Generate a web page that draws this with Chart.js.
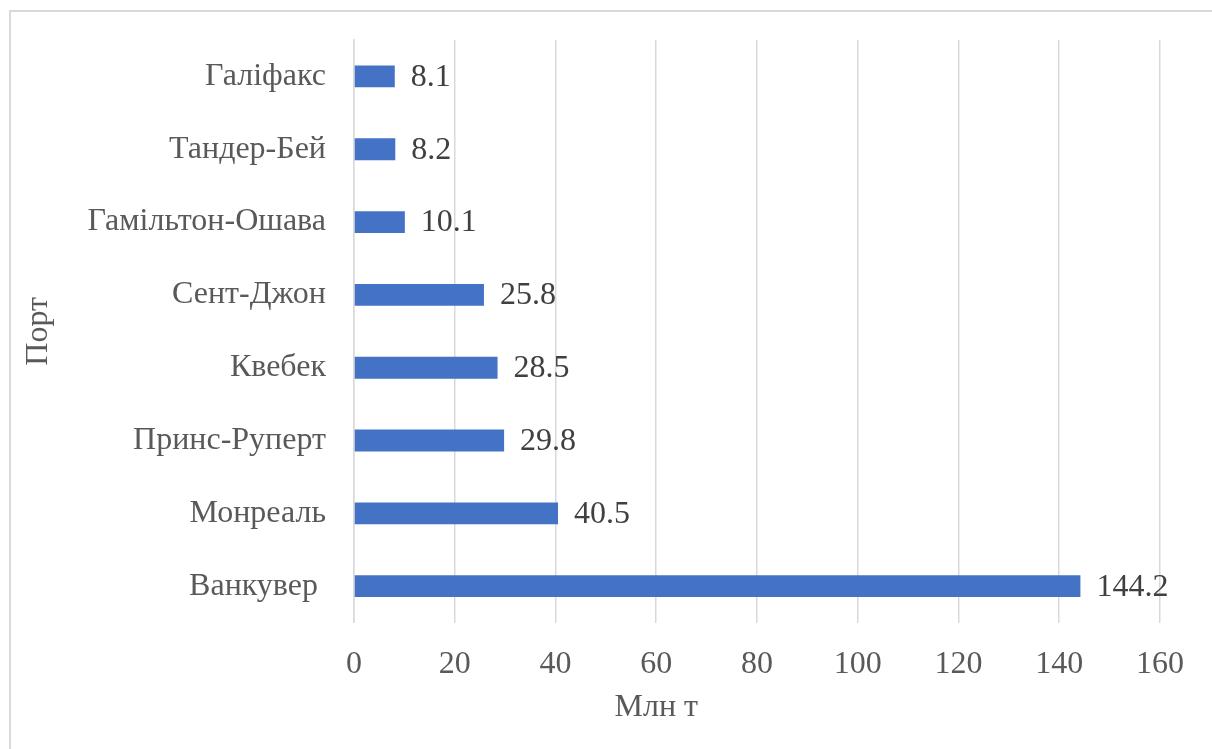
<!DOCTYPE html>
<html>
<head>
<meta charset="utf-8">
<script src="https://cdn.jsdelivr.net/npm/chart.js@4/dist/chart.umd.min.js"></script>
<style>
  html, body { margin: 0; padding: 0; background: #fff; overflow: hidden; }
  #frame {
    position: absolute; left: 9px; top: 10px;
    width: 1300px; height: 800px;
    border: 2px solid #d9d9d9; box-sizing: border-box;
  }
  #wrap { position: absolute; left: 0; top: 0; width: 1212px; height: 749px; }
</style>
</head>
<body>
<div id="frame"></div>
<div id="wrap"><canvas id="chart"></canvas></div>
<script>
// ports, top to bottom
const ports = ['Галіфакс', 'Тандер-Бей', 'Гамільтон-Ошава', 'Сент-Джон', 'Квебек', 'Принс-Руперт', 'Монреаль', 'Ванкувер '];
const volumes = [8.1, 8.2, 10.1, 25.8, 28.5, 29.8, 40.5, 144.2];
const xTicks = [0, 20, 40, 60, 80, 100, 120, 140, 160];
const xTitle = 'Млн т';
const yTitle = 'Порт';

const FONT = "'Liberation Serif', 'Times New Roman', serif";
const SIZE = 32;

// value labels at the end of each bar
const barValues = {
  id: 'barValues',
  afterDatasetsDraw(chart) {
    const ctx = chart.ctx;
    const meta = chart.getDatasetMeta(0);
    ctx.save();
    ctx.font = SIZE + 'px ' + FONT;
    ctx.fillStyle = '#404040';
    ctx.textAlign = 'left';
    ctx.textBaseline = 'middle';
    meta.data.forEach((bar, i) => {
      ctx.fillText(volumes[i].toFixed(1), bar.x + 16, bar.y + 1);
    });
    ctx.restore();
  }
};

// x axis title sits left of centre, like the original
const xAxisTitle = {
  id: 'xAxisTitle',
  afterDraw(chart) {
    const a = chart.chartArea;
    const ctx = chart.ctx;
    ctx.save();
    ctx.font = SIZE + 'px ' + FONT;
    ctx.fillStyle = '#595959';
    ctx.textAlign = 'center';
    ctx.textBaseline = 'middle';
    ctx.fillText(xTitle, a.left + (a.right - a.left) * 0.375, a.bottom + 85);
    ctx.restore();
  }
};

new Chart(document.getElementById('chart'), {
  type: 'bar',
  data: {
    labels: ports,
    datasets: [{
      data: volumes,
      backgroundColor: '#4472C4',
      borderWidth: 0,
      barPercentage: 0.3,
      categoryPercentage: 1
    }]
  },
  options: {
    indexAxis: 'y',
    responsive: true,
    maintainAspectRatio: false,
    animation: false,
    layout: { padding: { left: 19, right: 52, top: 40, bottom: 42 } },
    plugins: { legend: { display: false }, tooltip: { enabled: false } },
    scales: {
      x: {
        min: 0,
        max: 160,
        afterBuildTicks: (axis) => { axis.ticks = xTicks.map(v => ({ value: v })); },
        grid: { color: '#d9d9d9', lineWidth: 1.5, drawTicks: false },
        border: { display: false },
        ticks: { color: '#595959', font: { family: FONT, size: SIZE }, padding: 23 }
      },
      y: {
        grid: { display: false },
        border: { display: true, color: '#d9d9d9', width: 1.5 },
        ticks: { color: '#595959', font: { family: FONT, size: SIZE }, padding: 20 },
        title: {
          display: true,
          text: yTitle,
          color: '#595959',
          font: { family: FONT, size: SIZE },
          padding: { top: 0, bottom: 10 }
        }
      }
    }
  },
  plugins: [barValues, xAxisTitle]
});
</script>
</body>
</html>
